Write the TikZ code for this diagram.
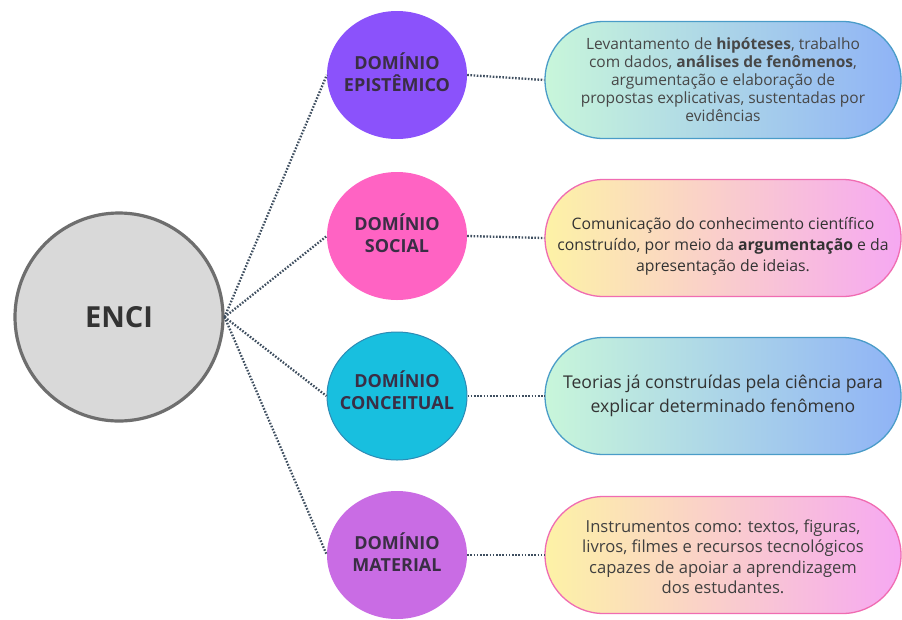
\documentclass[tikz,border=0pt]{standalone}
\usepackage{fontspec}
\setmainfont{Open Sans}
\usetikzlibrary{shapes.geometric}
\definecolor{encifill}{HTML}{D9D9D9}
\definecolor{encidraw}{HTML}{6E6E6E}
\definecolor{darktext}{HTML}{333333}
\definecolor{domtext}{HTML}{3A2E45}
\definecolor{epic}{HTML}{8B52FB}
\definecolor{socc}{HTML}{FF63C3}
\definecolor{conc}{HTML}{18BFDF}
\definecolor{concb}{HTML}{2D8BB5}
\definecolor{matc}{HTML}{C96CE4}
\definecolor{coolL}{HTML}{C8F6DA}
\definecolor{coolR}{HTML}{8FB3F6}
\definecolor{coolb}{HTML}{4A9CC8}
\definecolor{warmL}{HTML}{FDF2A6}
\definecolor{warmR}{HTML}{F6A8F2}
\definecolor{warmb}{HTML}{F06CB2}
\definecolor{linkc}{HTML}{3F4F60}
\begin{document}
\begin{tikzpicture}[x=1pt,y=-1pt,
  enci/.style={circle, draw=encidraw, line width=3.2pt, fill=encifill, minimum size=208pt, inner sep=0pt,
    text=darktext, font=\bfseries\fontsize{29}{29}\selectfont},
  dom/.style={ellipse, minimum width=140pt, minimum height=128pt, inner sep=0pt},
  domlabel/.style={align=center, inner sep=0pt, text=domtext, font=\bfseries\fontsize{18}{22}\selectfont},
  pill/.style={rectangle, line width=1.3pt, rounded corners=58.5pt, minimum width=356pt, minimum height=117pt, inner sep=0pt},
  coolpill/.style={pill, draw=coolb, left color=coolL, right color=coolR},
  warmpill/.style={pill, draw=warmb, left color=warmL, right color=warmR},
  ptext/.style={align=center, text=darktext, inner sep=0pt},
  link/.style={draw=linkc, line width=2.3pt, dash pattern=on 1.6pt off 1.6pt}
]
\fill[white] (0,0) rectangle (902,619);
\useasboundingbox (0,0) rectangle (902,619);

% pills
\node[coolpill] (p1) at (723,80) {};
\node[warmpill] (p2) at (723,238) {};
\node[coolpill] (p3) at (723,396) {};
\node[warmpill] (p4) at (723,555) {};

% domain circles
\node[dom, fill=epic] (d1) at (397,75) {};
\node[dom, fill=socc] (d2) at (397,236) {};
\node[dom, fill=conc, draw=concb, line width=1pt] (d3) at (397,396) {};
\node[dom, fill=matc] (d4) at (397,555) {};
\node[domlabel] (l1) at ([yshift=3pt]d1.center) {DOMÍNIO\\EPISTÊMICO};
\node[domlabel] (l2) at ([yshift=3pt]d2.center) {DOMÍNIO\\SOCIAL};
\node[domlabel] (l3) at ([yshift=6pt]d3.center) {DOMÍNIO\\CONCEITUAL};
\node[domlabel] (l4) at ([yshift=3pt]d4.center) {DOMÍNIO\\MATERIAL};

% central circle
\node[enci] (enci) at (119,317) {ENCI};

% connectors
\draw[link] (enci.east) -- (d1.west);
\draw[link] (enci.east) -- (d2.west);
\draw[link] (enci.east) -- (d3.west);
\draw[link] (enci.east) -- (d4.west);
\draw[link] (d1.east) -- (p1.west);
\draw[link] (d2.east) -- (p2.west);
\draw[link] (d3.east) -- (p3.west);
\draw[link] (d4.east) -- (p4.west);

% pill texts
\node[ptext, text=black!72, font=\fontsize{15.5}{18}\selectfont] (t1) at (p1.center)
  {Levantamento de \textbf{hipóteses}, trabalho\\ com dados, \textbf{análises de fenômenos},\\ argumentação e elaboração de\\ propostas explicativas, sustentadas por\\ evidências};
\node[ptext, font=\fontsize{15.8}{21}\selectfont] (t2) at ([yshift=-8pt]p2.center)
  {Comunicação do conhecimento científico\\ construído, por meio da \textbf{argumentação} e da\\ apresentação de ideias.};
\node[ptext, font=\fontsize{17.6}{24}\selectfont] (t3) at (p3.center)
  {Teorias já construídas pela ciência para\\ explicar determinado fenômeno};
\node[ptext, text=black!75, font=\fontsize{16.6}{20.5}\selectfont] (t4) at ([yshift=-2pt]p4.center)
  {Instrumentos como: textos, figuras,\\ livros, filmes e recursos tecnológicos\\ capazes de apoiar a aprendizagem\\ dos estudantes.};
\end{tikzpicture}
\end{document}
